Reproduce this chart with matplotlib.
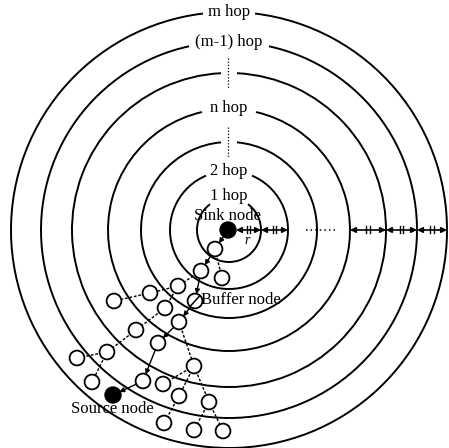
import numpy as np
import matplotlib
matplotlib.use("Agg")
import matplotlib.pyplot as plt
from matplotlib.patches import Arc, Circle

# ---- data ----
center = (229, 230)
ring_radii = [32, 59, 88, 121, 157, 188, 218]
ring_labels = ["1 hop", "2 hop", "", "n hop", "", "(m-1) hop", "m hop"]
gap_halfwidth = [19, 23, 8, 27, 8, 40, 26]     # px half-gap at ring top
label_y_off = [-2, 0, 0, -1, 0, 0, 0]

node_names = ["sink", "n1", "n2", "n3", "n4", "n5", "n6", "buf", "n7", "n8",
              "n9", "n10", "n11", "n12", "n13", "src", "n14", "n15", "n16",
              "n17", "n18", "n19", "n20", "n21"]
node_x = [228, 215, 222, 201, 178, 150, 114, 195, 165, 179,
          136, 107, 77, 158, 92, 113, 143, 194, 163,
          179, 209, 164, 194, 223]
node_y = [230, 249, 278, 271, 286, 293, 301, 301, 308, 322,
          330, 352, 358, 343, 382, 395, 381, 366, 384,
          396, 402, 423, 430, 431]

path_edges = [("sink", "n1"), ("n1", "n3"), ("n3", "buf"), ("buf", "n8"),
              ("n8", "n12"), ("n12", "n14"), ("n14", "src")]
dashed_edges = [("n1", "n2"), ("n3", "n4"), ("n4", "n5"), ("n5", "n6"),
                ("n4", "n7"), ("n7", "n9"), ("n9", "n10"), ("n10", "n11"),
                ("n10", "n13"), ("n8", "n15"), ("n15", "n16"), ("n15", "n17"),
                ("n17", "n19"), ("n15", "n18"), ("n18", "n20"), ("n18", "n21")]

# ---- figure ----
fig = plt.figure(figsize=(4.49, 4.48), dpi=100)
ax = fig.add_axes([0, 0, 1, 1])
ax.set_xlim(0, 449)
ax.set_ylim(448, 0)
ax.set_aspect("equal")
ax.axis("off")

serif = "Liberation Serif"
fs = 12
cx, cy = center
for r, lab, g, dy in zip(ring_radii, ring_labels, gap_halfwidth, label_y_off):
    ang = np.degrees(np.arcsin(min(g / r, 0.99)))
    ax.add_patch(Arc((cx, cy), 2 * r, 2 * r, theta1=270 + ang, theta2=630 - ang,
                     lw=1.4, color="black"))
    if lab:
        ax.text(cx, cy - r + dy, lab, ha="center", va="center",
                fontsize=fs, family=serif)

# dotted vertical marks on unlabeled rings
for r in [88, 157]:
    ax.plot([cx - 1, cx - 1], [cy - r - 15, cy - r + 15], ls=(0, (1, 1.5)),
            lw=0.9, color="black")

# right-hand distance arrows
xs = [cx + r for r in ring_radii]
segments = [(236, xs[0]), (xs[0], xs[1])] + [(xs[i], xs[i + 1]) for i in range(3, 6)]
for a, b in segments:
    ax.annotate("", xy=(b, cy), xytext=(a, cy),
                arrowprops=dict(arrowstyle="<|-|>", color="black", lw=1.2,
                                mutation_scale=8, shrinkA=0, shrinkB=0))
    m = (a + b) / 2
    for dx in (-1.7, 1.7):
        ax.plot([m + dx, m + dx], [cy - 3.5, cy + 3.5], color="black", lw=1.0)
ax.plot([306, 336], [cy, cy], ls=(0, (1, 2)), lw=1.1, color="black")
ax.text(247, 241, "r", ha="center", va="center", fontsize=10, family=serif,
        style="italic")

# tree
pos = {n: (x, y) for n, x, y in zip(node_names, node_x, node_y)}
for a, b in dashed_edges:
    ax.plot([pos[a][0], pos[b][0]], [pos[a][1], pos[b][1]], ls=(0, (2, 1.3)),
            lw=1.0, color="black", zorder=2)
for a, b in path_edges:
    ax.annotate("", xy=pos[b], xytext=pos[a],
                arrowprops=dict(arrowstyle="-|>", color="black", lw=1.0,
                                mutation_scale=7, shrinkA=5, shrinkB=5),
                zorder=2)
for n in node_names:
    x, y = pos[n]
    if n in ("sink", "src"):
        ax.add_patch(Circle((x, y), 8, fc="black", ec="black", zorder=4))
    else:
        ax.add_patch(Circle((x, y), 7.4, fc="white", ec="black", lw=1.3, zorder=4))
bx, by = pos["buf"]
ax.plot([bx - 4.5, bx + 4.5], [by + 5, by - 5], color="black", lw=1.1, zorder=5)

ax.text(228, 216, "Sink node", ha="center", va="center", fontsize=fs,
        family=serif, zorder=6)
ax.text(201, 300, "Buffer node", ha="left", va="center", fontsize=fs,
        family=serif, zorder=6)
ax.text(112, 409, "Source node", ha="center", va="center", fontsize=fs,
        family=serif, zorder=6)

fig.savefig("out.png", dpi=100)
